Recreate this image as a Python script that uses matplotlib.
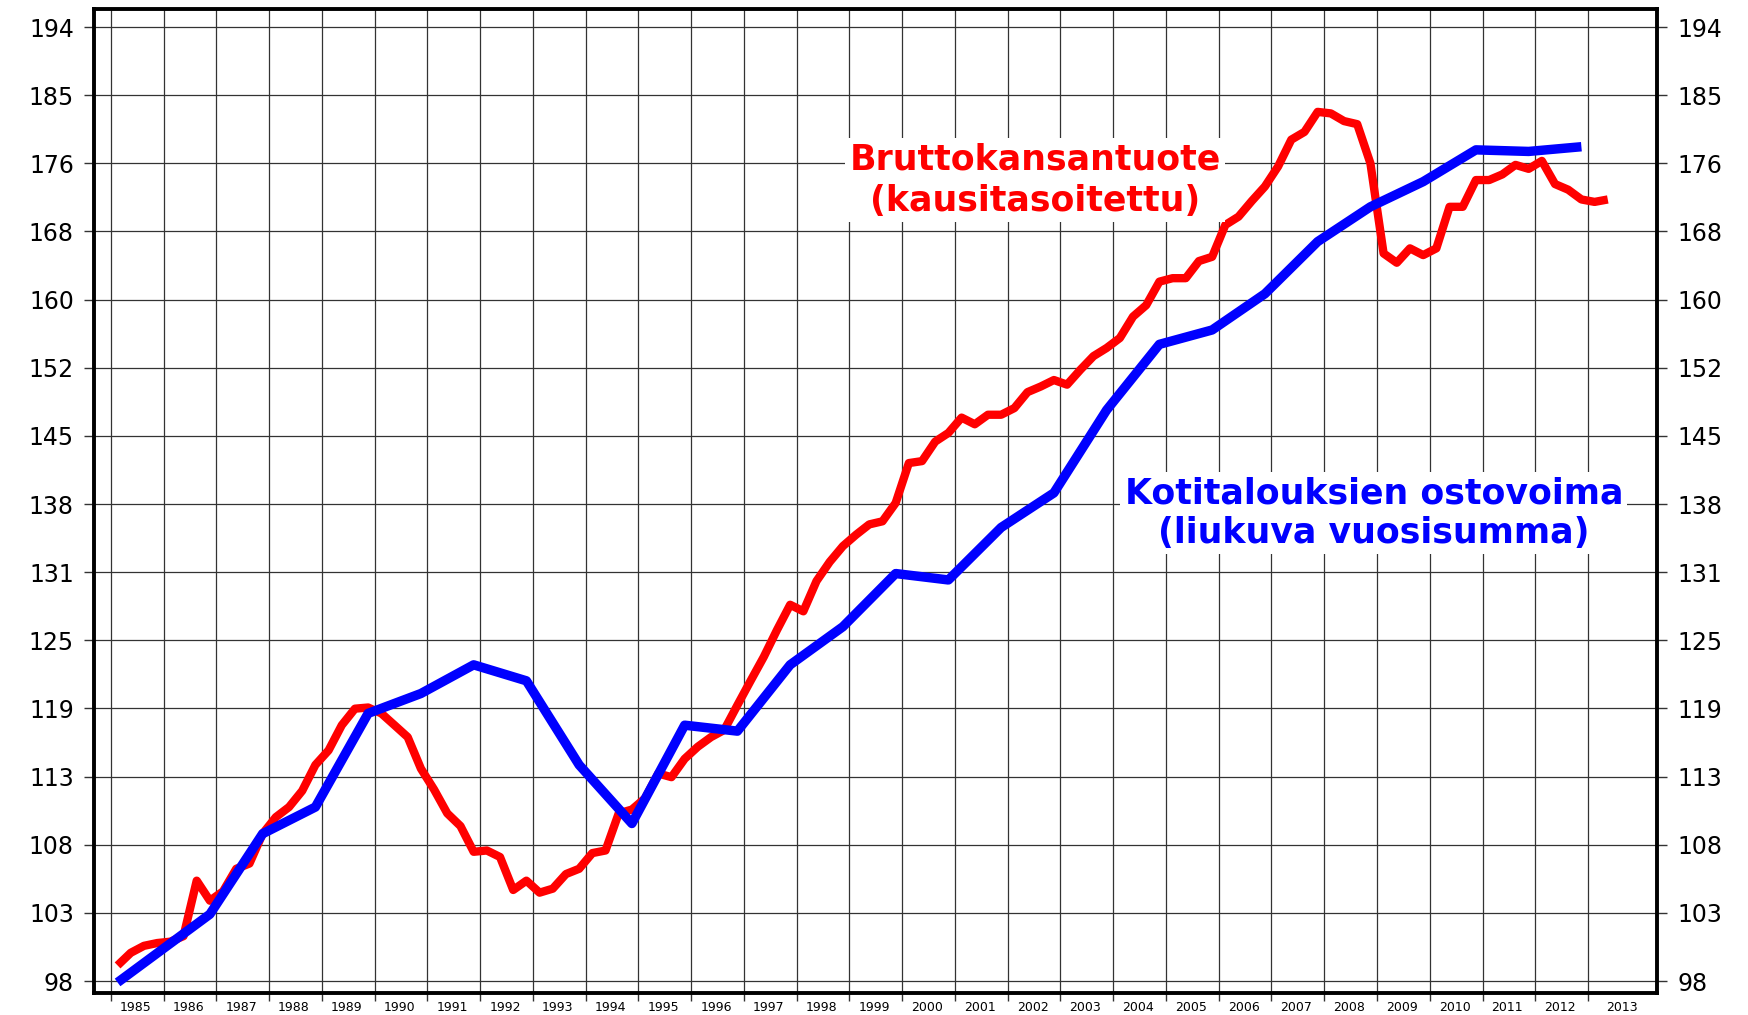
import matplotlib
matplotlib.use("Agg")
import matplotlib.pyplot as plt
from matplotlib.ticker import FixedLocator, NullLocator, NullFormatter, FixedFormatter
import numpy as np

# quarterly GDP index, 1985Q1 .. 2013Q2
gdp = [99.1, 100.0, 100.5, 100.7, 100.8, 101.2, 105.3, 103.8,
       104.5, 106.2, 106.6, 108.9, 110.2, 111.0, 112.3, 114.4,
       115.6, 117.7, 119.1, 119.2, 118.7, 117.7, 116.7, 114.1,
       112.4, 110.5, 109.5, 107.5, 107.6, 107.1, 104.6, 105.3,
       104.4, 104.7, 105.8, 106.2, 107.4, 107.6, 110.5, 110.8,
       111.7, 113.7, 113.4, 114.9, 115.9, 116.7, 117.3, 119.4,
       121.5, 123.6, 126.0, 128.3, 127.7, 130.5, 132.3, 133.8,
       134.9, 135.9, 136.2, 138.0, 142.0, 142.2, 144.2, 145.1,
       146.7, 146.0, 147.0, 147.0, 147.7, 149.4, 150.0, 150.7,
       150.2, 151.8, 153.3, 154.2, 155.3, 157.7, 159.0, 161.7,
       162.1, 162.1, 164.1, 164.6, 168.4, 169.4, 171.3, 173.1,
       175.6, 179.0, 180.0, 182.6, 182.4, 181.4, 181.0, 176.0,
       165.0, 163.9, 165.6, 164.8, 165.6, 170.6, 170.6, 173.9,
       173.9, 174.6, 175.8, 175.3, 176.3, 173.4, 172.7, 171.5,
       171.2, 171.5]
gdp_x = 1985.125 + 0.25 * np.arange(len(gdp))

# household purchasing power, rolling annual sum
ppw_x = [1985.125, 1986.875, 1987.875, 1988.875, 1989.875, 1990.875,
         1991.875, 1992.875, 1993.875, 1994.875, 1995.875, 1996.875,
         1997.875, 1998.875, 1999.875, 2000.875, 2001.875, 2002.875,
         2003.875, 2004.875, 2005.875, 2006.875, 2007.875, 2008.875,
         2009.875, 2010.875, 2011.875, 2012.875]
ppw = [97.9, 102.8, 108.9, 111.0, 118.7, 120.4, 122.9, 121.5, 114.4,
       109.7, 117.7, 117.2, 122.9, 126.3, 131.2, 130.6, 135.6, 139.0,
       147.5, 154.6, 156.2, 160.3, 166.4, 170.6, 173.7, 177.7, 177.5,
       178.1]

ytick_labels = ['98', '103', '108', '113', '119', '125', '131', '138',
                '145', '152', '160', '168', '176', '185', '194']
years = list(range(1985, 2014))

W, H = 1749, 1015
fig = plt.figure(figsize=(W / 100, H / 100), dpi=100)
ax = fig.add_axes([94 / W, 1 - 993 / H, (1657 - 94) / W, (993 - 9) / H])

ax.plot(gdp_x, gdp, color='#ff0000', lw=6.0, solid_joinstyle='round',
        solid_capstyle='butt', zorder=3)
ax.plot(ppw_x, ppw, color='#0000ff', lw=6.8, solid_joinstyle='round',
        solid_capstyle='butt', zorder=4)

ax.set_yscale('log')
yticks = [98 * 1.05 ** k for k in range(len(ytick_labels))]
ax.yaxis.set_major_locator(FixedLocator(yticks))
ax.yaxis.set_major_formatter(FixedFormatter(ytick_labels))
ax.yaxis.set_minor_locator(NullLocator())
ax.yaxis.set_minor_formatter(NullFormatter())
ax.set_ylim(98 * 1.05 ** -0.176, 98 * 1.05 ** 14.265)
ax.set_xlim(1984.678, 2014.308)

ax.xaxis.set_major_locator(FixedLocator(years))
ax.xaxis.set_major_formatter(NullFormatter())
xlab_pos = [y + 0.47 for y in years[:-1]] + [2013.64]
ax.xaxis.set_minor_locator(FixedLocator(xlab_pos))
ax.xaxis.set_minor_formatter(FixedFormatter([str(y) for y in years]))

ax.tick_params(axis='x', which='major', direction='out', length=6, width=1, color='#333333')
ax.tick_params(axis='x', which='minor', length=0, pad=6, labelsize=9)
ax.tick_params(axis='y', which='major', direction='out', length=7.5, width=1,
               color='#333333', labelsize=17, pad=7, right=True, labelright=True)

ax.grid(True, which='major', color='#333333', lw=0.9, zorder=1)
ax.set_axisbelow(True)
for s in ax.spines.values():
    s.set_linewidth(2.8)
    s.set_color('black')

ax.text(2002.52, 173.9, 'Bruttokansantuote\n(kausitasoitettu)', color='#ff0000',
        fontsize=25, fontweight='bold', ha='center', va='center', linespacing=1.27,
        zorder=5, bbox=dict(facecolor='white', edgecolor='none', pad=3))
ax.text(2008.94, 137.0, 'Kotitalouksien ostovoima\n(liukuva vuosisumma)', color='#0000ff',
        fontsize=25, fontweight='bold', ha='center', va='center', linespacing=1.2,
        zorder=5, bbox=dict(facecolor='white', edgecolor='none', pad=3))

fig.savefig('out.png', dpi=100)
